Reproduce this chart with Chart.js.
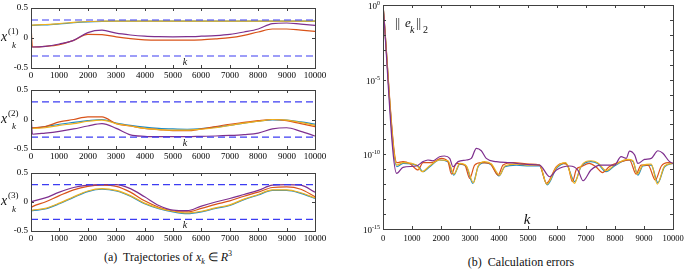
<!doctype html>
<html>
<head>
<meta charset="utf-8">
<title>Trajectories and calculation errors</title>
<script src="https://cdn.jsdelivr.net/npm/chart.js"></script>
<style>
  body { margin:0; background:#fff; width:685px; height:271px; overflow:hidden; position:relative; font-family:"Liberation Serif", serif; }
  .box { position:absolute; }
  .cap { position:absolute; font-size:12px; color:#111; white-space:nowrap; transform:translateX(-50%); }
</style>
</head>
<body>
<div class="box" style="left:0;top:0"><canvas id="c1" width="330" height="82"></canvas></div>
<div class="box" style="left:0;top:82px"><canvas id="c2" width="330" height="81"></canvas></div>
<div class="box" style="left:0;top:165px"><canvas id="c3" width="330" height="80"></canvas></div>
<div class="box" style="left:330px;top:0"><canvas id="c4" width="355" height="245"></canvas></div>
<div class="cap" style="left:168px;top:249px">(a)&nbsp; Trajectories of <i>x<sub style="font-size:8px">k</sub></i> &isin; <i>R</i><sup style="font-size:8px">3</sup></div>
<div class="cap" style="left:521px;top:255px">(b)&nbsp; Calculation errors</div>
<script>
// sample instants for the three trajectory plots
const K = [0, 50, 500, 1000, 1500, 2000, 2500, 3000, 3500, 4000, 4500, 5000, 5500, 6000, 6500, 7000, 7500, 8000, 8500, 9000, 9500, 10000];
const bounds = [0.3, -0.3];
const xTickLabels = [0, 1000, 2000, 3000, 4000, 5000, 6000, 7000, 8000, 9000, 10000];
const yTickLabels = [-0.5, 0, 0.5];

// x^(1)
const x1Blue   = [0.20, 0.21, 0.22, 0.235, 0.255, 0.27, 0.278, 0.28, 0.28, 0.28, 0.28, 0.28, 0.28, 0.28, 0.28, 0.28, 0.28, 0.28, 0.28, 0.28, 0.28, 0.28];
const x1Orange = [0.22, -0.15, -0.14, -0.11, -0.04, 0.06, 0.057, 0.02, -0.01, -0.03, -0.035, -0.035, -0.035, -0.03, -0.015, 0.005, 0.045, 0.10, 0.15, 0.15, 0.13, 0.11];
const x1Yellow = [0.20, 0.215, 0.225, 0.24, 0.26, 0.275, 0.28, 0.282, 0.282, 0.282, 0.282, 0.282, 0.282, 0.282, 0.282, 0.282, 0.282, 0.282, 0.282, 0.282, 0.282, 0.282];
const x1Purple = [-0.15, -0.15, -0.14, -0.10, -0.04, 0.09, 0.13, 0.08, 0.05, 0.03, 0.022, 0.02, 0.022, 0.03, 0.04, 0.06, 0.10, 0.15, 0.24, 0.25, 0.23, 0.21];

// x^(2)
const x2Blue   = [-0.14, -0.14, -0.12, -0.08, -0.05, -0.02, 0.0, -0.06, -0.10, -0.13, -0.15, -0.16, -0.165, -0.155, -0.13, -0.10, -0.06, -0.03, -0.005, -0.01, -0.04, -0.08];
const x2Orange = [-0.14, -0.14, -0.12, -0.04, 0.0, 0.045, 0.045, -0.07, -0.11, -0.15, -0.17, -0.19, -0.19, -0.16, -0.12, -0.08, -0.05, -0.02, 0.0, -0.02, -0.07, -0.12];
const x2Yellow = [-0.15, -0.15, -0.14, -0.10, -0.07, -0.03, -0.01, -0.07, -0.11, -0.15, -0.17, -0.18, -0.18, -0.165, -0.14, -0.10, -0.06, -0.03, 0.0, -0.01, -0.05, -0.10];
const x2Purple = [0.12, -0.25, -0.23, -0.20, -0.16, -0.11, -0.07, -0.15, -0.26, -0.285, -0.29, -0.29, -0.29, -0.285, -0.28, -0.27, -0.255, -0.23, -0.16, -0.14, -0.20, -0.28];

// x^(3)
const x3Blue   = [-0.155, -0.15, -0.12, -0.03, 0.08, 0.18, 0.22, 0.19, 0.10, -0.03, -0.115, -0.17, -0.20, -0.17, -0.11, -0.06, 0.04, 0.12, 0.20, 0.20, 0.15, 0.06];
const x3Orange = [-0.10, -0.08, 0.0, 0.11, 0.21, 0.27, 0.29, 0.27, 0.17, 0.02, -0.09, -0.155, -0.17, -0.11, -0.04, 0.02, 0.10, 0.17, 0.25, 0.26, 0.22, 0.09];
const x3Yellow = [-0.145, -0.14, -0.11, -0.02, 0.09, 0.19, 0.23, 0.20, 0.11, -0.02, -0.105, -0.16, -0.19, -0.16, -0.10, -0.05, 0.05, 0.13, 0.21, 0.21, 0.16, 0.07];
const x3Purple = [0.0, 0.01, 0.07, 0.17, 0.25, 0.29, 0.30, 0.30, 0.23, 0.09, -0.06, -0.14, -0.15, -0.07, 0.0, 0.06, 0.13, 0.20, 0.29, 0.30, 0.29, 0.17];

// ||e_k||_2, values are log10 of the error
const errKBlue = [0, 480, 690, 1210, 1380, 1610, 1950, 2240, 2440, 2650, 2875, 3100, 3280, 3500, 3740, 4000, 4200, 4600, 5060, 5400, 5660, 5980, 6300, 6610, 6830, 7170, 7400, 7690, 7980, 8440, 8620, 8790, 8960, 9250, 9480, 9710, 10000];
const errBlue  = [0, -10.83, -10.61, -10.78, -11.16, -10.83, -10.38, -10.49, -11.39, -10.65, -10.83, -11.94, -10.83, -10.56, -10.72, -11.45, -10.83, -10.72, -10.78, -10.78, -12.05, -10.94, -10.61, -11.83, -10.83, -10.49, -10.61, -11.16, -10.78, -10.38, -10.49, -11.39, -10.78, -10.72, -11.90, -10.83, -10.61];
const errKOrange = [0, 480, 690, 920, 1210, 1380, 1670, 2010, 2240, 2360, 2530, 2820, 2990, 3160, 3390, 3680, 3970, 4140, 4490, 5060, 5400, 5634, 5980, 6210, 6380, 6530, 6670, 6830, 7110, 7340, 7570, 7800, 8210, 8500, 8730, 8900, 9140, 9390, 9600, 9830, 10000];
const errOrange  = [0, -10.56, -10.49, -10.61, -11.05, -10.56, -10.56, -10.27, -10.49, -11.32, -10.61, -10.72, -11.61, -10.72, -10.56, -10.61, -11.39, -10.72, -10.56, -10.65, -10.72, -11.94, -10.83, -10.61, -10.78, -11.83, -11.0, -10.83, -10.61, -10.83, -11.23, -10.83, -10.49, -10.38, -11.32, -10.72, -10.72, -11.72, -10.78, -10.56, -10.61];
const errKYellow = [0, 480, 690, 1150, 1350, 1600, 1950, 2240, 2450, 2650, 2875, 3120, 3280, 3500, 3740, 4020, 4200, 4600, 5060, 5400, 5650, 5980, 6300, 6600, 6830, 7170, 7400, 7700, 7980, 8440, 8620, 8770, 8960, 9250, 9460, 9710, 10000];
const errYellow  = [0, -10.72, -10.56, -10.72, -11.16, -10.78, -10.38, -10.43, -11.32, -10.61, -10.78, -11.90, -10.78, -10.49, -10.65, -11.39, -10.78, -10.65, -10.72, -10.72, -12.0, -10.87, -10.56, -11.94, -10.78, -10.43, -10.56, -11.09, -10.72, -10.34, -10.43, -11.32, -10.72, -10.65, -11.99, -10.78, -10.61];
const errKPurple = [0, 470, 690, 1150, 1380, 1550, 1720, 1950, 2120, 2300, 2415, 2590, 2875, 3045, 3220, 3390, 3560, 3910, 4370, 5060, 5400, 5750, 5980, 6440, 6720, 6900, 7170, 7510, 7980, 8210, 8390, 8500, 8680, 8790, 9020, 9250, 9480, 9650, 9880, 10000];
const errPurple  = [0, -11.28, -10.87, -10.78, -10.49, -10.38, -10.43, -10.16, -10.11, -10.27, -10.83, -10.49, -10.38, -10.27, -9.60, -9.76, -10.27, -10.49, -10.56, -10.69, -10.72, -11.50, -11.05, -10.78, -11.05, -11.77, -11.05, -10.72, -10.72, -10.16, -10.27, -9.78, -10.05, -10.61, -10.34, -10.27, -9.76, -9.93, -10.49, -10.61];
const errTickExps = [0, -5, -10, -15];

const BLUE = '#1f8cc4', ORANGE = '#d95319', YELLOW = '#edb120', PURPLE = '#7e2f8e', DASH = '#3c3cf2';
const FONT = '"Liberation Serif", serif';

function pts(xs, ys) { return xs.map((x, i) => ({ x: x, y: ys[i] })); }
function line(data, color, order, mode) {
  return { data: data, borderColor: color, borderWidth: 1.2, pointRadius: 0, fill: false, order: order,
           cubicInterpolationMode: mode || 'monotone' };
}

// box around the axes, small inward ticks and the tick labels
const framePlugin = {
  id: 'frame',
  afterDatasetsDraw(chart, args, opts) {
    const ctx = chart.ctx, a = chart.chartArea, xs = chart.scales.x, ys = chart.scales.y;
    ctx.save();
    ctx.strokeStyle = '#404040';
    ctx.lineWidth = 1;
    ctx.beginPath();
    xTickLabels.forEach(v => {
      const px = Math.round(xs.getPixelForValue(v)) + 0.5;
      ctx.moveTo(px, a.bottom); ctx.lineTo(px, a.bottom - opts.len);
      ctx.moveTo(px, a.top); ctx.lineTo(px, a.top + opts.len);
    });
    opts.yTicks.forEach(v => {
      const py = Math.round(ys.getPixelForValue(v)) + 0.5;
      ctx.moveTo(a.left, py); ctx.lineTo(a.left + opts.len, py);
      ctx.moveTo(a.right, py); ctx.lineTo(a.right - opts.len, py);
    });
    ctx.stroke();
    ctx.strokeRect(Math.round(a.left) + 0.5, Math.round(a.top) + 0.5, Math.round(a.right - a.left), Math.round(a.bottom - a.top));

    ctx.fillStyle = '#000';
    ctx.font = opts.fontSize + 'px ' + FONT;
    ctx.textBaseline = 'middle';
    ctx.textAlign = 'center';
    xTickLabels.forEach(v => {
      ctx.fillText(String(v), Math.round(xs.getPixelForValue(v)), Math.round(a.bottom + opts.xGap));
    });
    if (opts.yLabels) {
      ctx.textAlign = 'right';
      opts.yLabels.forEach(v => {
        ctx.fillText(String(v), a.left - 3, Math.round(ys.getPixelForValue(v)));
      });
    }
    ctx.restore();
  }
};

// x_k^(n) label and k label
const trajLabels = {
  id: 'trajLabels',
  afterDraw(chart, args, opts) {
    const ctx = chart.ctx, a = chart.chartArea;
    const y0 = chart.scales.y.getPixelForValue(0);
    ctx.save();
    ctx.fillStyle = '#111';
    ctx.textAlign = 'left';
    ctx.font = 'italic 14px ' + FONT;
    ctx.fillText('x', 1, y0 + 3);
    ctx.font = '9px ' + FONT;
    ctx.fillText(opts.n, 8, y0 - 4);
    ctx.font = 'italic 9px ' + FONT;
    ctx.fillText('k', 12, y0 + 9.5);
    ctx.textAlign = 'center';
    ctx.font = 'italic 10px ' + FONT;
    ctx.fillText('k', a.left + 0.542 * (a.right - a.left), a.bottom - 3.5);
    ctx.restore();
  }
};

function trajChart(id, n, blue, orange, yellow, purple) {
  return new Chart(document.getElementById(id), {
    type: 'line',
    data: {
      datasets: [
        line(pts([0, 10000], [bounds[0], bounds[0]]), DASH, -1, 'default'),
        line(pts([0, 10000], [bounds[1], bounds[1]]), DASH, -1, 'default'),
        line(pts(K, purple), PURPLE, 0),
        line(pts(K, yellow), YELLOW, 1),
        line(pts(K, orange), ORANGE, 2),
        line(pts(K, blue), BLUE, 3)
      ].map((d, i) => i < 2 ? Object.assign(d, { borderDash: [7, 4], tension: 0 }) : d)
    },
    options: {
      responsive: false, animation: false,
      layout: { padding: { left: 0, right: 15, top: 8, bottom: 0 } },
      plugins: { legend: { display: false }, tooltip: { enabled: false },
                 frame: { len: 3, yTicks: yTickLabels, yLabels: yTickLabels, xGap: 7.5, fontSize: 9 },
                 trajLabels: { n: n } },
      scales: {
        x: { type: 'linear', min: 0, max: 10000, ticks: { display: false },
             grid: { display: false }, border: { display: false },
             afterFit: s => { s.height = 14; } },
        y: { min: -0.5, max: 0.5, ticks: { display: false },
             grid: { display: false }, border: { display: false },
             afterFit: s => { s.width = 31; } }
      }
    },
    plugins: [framePlugin, trajLabels]
  });
}

trajChart('c1', '(1)', x1Blue, x1Orange, x1Yellow, x1Purple);
trajChart('c2', '(2)', x2Blue, x2Orange, x2Yellow, x2Purple);
trajChart('c3', '(3)', x3Blue, x3Orange, x3Yellow, x3Purple);

// error plot labels: 10^e ticks, ||e_k||_2, k
const errLabels = {
  id: 'errLabels',
  afterDraw(chart) {
    const ctx = chart.ctx, a = chart.chartArea, ys = chart.scales.y;
    ctx.save();
    ctx.fillStyle = '#000';
    ctx.textAlign = 'left';
    errTickExps.forEach(e => {
      const py = Math.round(ys.getPixelForValue(Math.pow(10, e)));
      const ex = String(e);
      ctx.font = '6px ' + FONT;
      const we = ctx.measureText(ex).width;
      ctx.font = '9px ' + FONT;
      const wb = ctx.measureText('10').width;
      const right = a.left - 3;
      ctx.fillText('10', right - we - wb, py + 4);
      ctx.font = '6px ' + FONT;
      ctx.fillText(ex, right - we, py);
    });
    ctx.fillStyle = '#111';
    ctx.font = '13px ' + FONT;
    ctx.fillText('||', 65, 27);
    ctx.font = 'italic 13px ' + FONT;
    ctx.fillText('e', 75, 27);
    ctx.font = 'italic 10px ' + FONT;
    ctx.fillText('k', 80, 33);
    ctx.font = '13px ' + FONT;
    ctx.fillText('||', 86, 27);
    ctx.font = '10px ' + FONT;
    ctx.fillText('2', 93, 33);
    ctx.textAlign = 'center';
    ctx.font = 'italic 15px ' + FONT;
    ctx.fillText('k', a.left + 0.497 * (a.right - a.left), a.bottom - 5);
    ctx.restore();
  }
};

const pow10 = v => v.map(e => Math.pow(10, e));
const decades = [];
for (let e = 0; e >= -15; e--) decades.push(Math.pow(10, e));

new Chart(document.getElementById('c4'), {
  type: 'line',
  data: {
    datasets: [
      line(pts(errKPurple, pow10(errPurple)), PURPLE, 0),
      line(pts(errKYellow, pow10(errYellow)), YELLOW, 1),
      line(pts(errKOrange, pow10(errOrange)), ORANGE, 2),
      line(pts(errKBlue, pow10(errBlue)), BLUE, 3)
    ]
  },
  options: {
    responsive: false, animation: false,
    layout: { padding: { left: 0, right: 12, top: 5, bottom: 0 } },
    plugins: { legend: { display: false }, tooltip: { enabled: false },
               frame: { len: 3, yTicks: decades, xGap: 10, fontSize: 8.5 } },
    scales: {
      x: { type: 'linear', min: 0, max: 10000, ticks: { display: false },
           grid: { display: false }, border: { display: false },
           afterFit: s => { s.height = 16; } },
      y: { type: 'logarithmic', min: 1e-15, max: 1,
           ticks: { display: false },
           grid: { display: false }, border: { display: false },
           afterBuildTicks: s => { s.ticks = decades.map(v => ({ value: v })); },
           afterFit: s => { s.width = 53; } }
    }
  },
  plugins: [framePlugin, errLabels]
});
</script>
</body>
</html>
